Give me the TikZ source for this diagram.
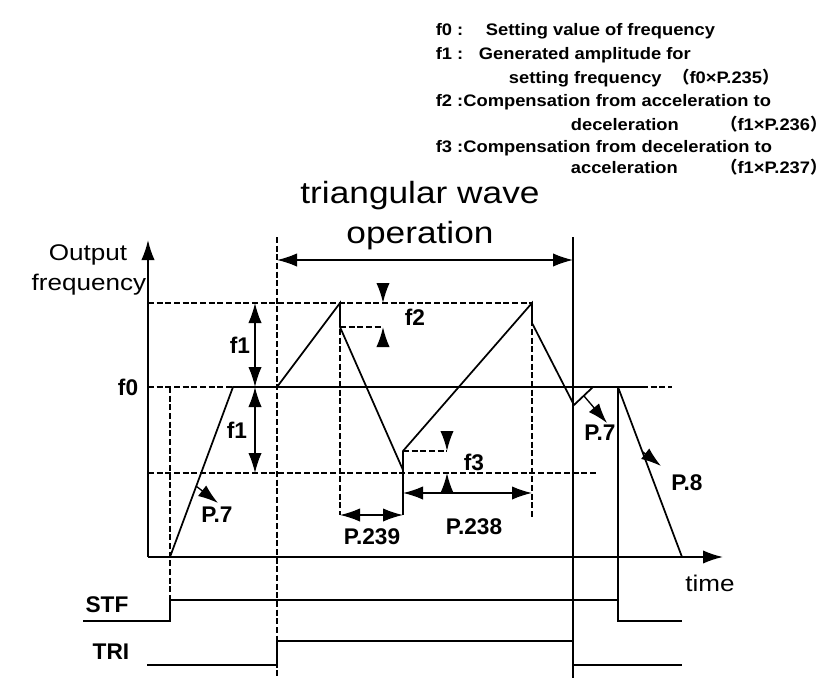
\documentclass[tikz,border=0pt]{standalone}
\usepackage{fontspec}
\setmainfont{Liberation Sans}[FakeStretch=1.15]
\newfontfamily\legfont{Liberation Sans}[FakeStretch=1.1,BoldFont={Liberation Sans Bold}]
\newfontfamily\lblfont{Liberation Sans Bold}
\newfontfamily\cjk{Noto Sans CJK SC}
\usetikzlibrary{arrows.meta}

\begin{document}
\begin{tikzpicture}[x=0.75pt,y=-0.75pt,>={Latex[length=15pt,width=10pt]},line width=1.3pt,
  every node/.style={inner sep=0pt,font=\fontsize{17}{20}\selectfont},
  lbl/.style={font=\lblfont\fontsize{17}{20}\selectfont},
  guide/.style={dash pattern=on 4.5pt off 2pt,line width=1pt},
  sig/.style={line width=1pt},
  thin arrow/.style={->,line width=1pt},
  dim/.style={<->,line width=1.1pt},
  leg/.style={anchor=base west,font=\legfont\bfseries\fontsize{12.5}{14}\selectfont}]
  \useasboundingbox (0,0) rectangle (840,678);

  % legend
  \node (l0) [leg] at (435,36) {f0 :};
  \node (l0t) [leg] at (485,36) {Setting value of frequency};
  \node (l1) [leg] at (435,60) {f1 :};
  \node (l1t) [leg] at (478,60) {Generated amplitude for};
  \node (l1u) [leg] at (508,83) {setting frequency};
  \node (l1v) [leg] at (672,83) {{\cjk （}f0×P.235{\cjk ）}};
  \node (l2) [leg] at (435,106) {f2 :Compensation from acceleration to};
  \node (l2u) [leg] at (570,130) {deceleration};
  \node (l2v) [leg] at (720,130) {{\cjk （}f1×P.236{\cjk ）}};
  \node (l3) [leg] at (435,152) {f3 :Compensation from deceleration to};
  \node (l3u) [leg] at (570,173) {acceleration};
  \node (l3v) [leg] at (720,173) {{\cjk （}f1×P.237{\cjk ）}};

  % title
  \node (tw) [anchor=base,font=\fontsize{23}{26}\selectfont] at (420,203) {triangular wave};
  \node (opn) [anchor=base,font=\fontsize{23}{26}\selectfont] at (420,243) {operation};

  % axes
  \coordinate (O) at (148,557);
  \coordinate (ytip) at (148,240);
  \coordinate (xtip) at (723,557);
  \draw[->] (O) -- (ytip);
  \draw[->] (O) -- (xtip);
  \node (out) [anchor=base east] at (128,260) {Output};
  \node (freq) [anchor=base east] at (147,290) {frequency};
  \node (time) at (710,583) {time};

  % levels
  \coordinate (hi) at (148,303);
  \coordinate (hiR) at (532,303);
  \coordinate (mid) at (148,387);
  \coordinate (midR) at (672,387);
  \coordinate (lo) at (148,473);
  \coordinate (loR) at (597,473);
  \draw[guide] (hi) -- (hiR);
  \draw[guide] (mid) -- (midR);
  \draw[guide] (lo) -- (loR);
  \node (f0) [lbl,anchor=east] at (139,387) {f0};

  % output frequency
  \coordinate (s0) at (170,557);
  \coordinate (s1) at (233,387);
  \coordinate (t0) at (277,387);
  \coordinate (t1) at (340,303);
  \coordinate (t2) at (340,327);
  \coordinate (t3) at (403,470);
  \coordinate (t4) at (403,451);
  \coordinate (t5) at (532,303);
  \coordinate (t6) at (532,323);
  \coordinate (t7) at (574,405);
  \coordinate (e0) at (593,387);
  \coordinate (e1) at (618,387);
  \coordinate (e2) at (682,557);
  \coordinate (f0end) at (645,387);
  \draw (s1) -- (f0end);
  \draw (s0) -- (s1) -- (t0) -- (t1) -- (t2) -- (t3) -- (t4) -- (t5) -- (t6) -- (t7) -- (e0) -- (e1) -- (e2);

  % guide lines
  \coordinate (g1) at (170,387);
  \coordinate (g1b) at (170,600);
  \coordinate (opL) at (277,237);
  \coordinate (opLb) at (277,678);
  \coordinate (opR) at (573,237);
  \coordinate (opRb) at (573,678);
  \coordinate (p9L) at (340,515);
  \coordinate (p9R) at (403,515);
  \coordinate (p8L) at (403,493);
  \coordinate (p8R) at (532,493);
  \coordinate (g5b) at (532,517);
  \coordinate (stfOff) at (618,600);
  \draw[guide] (g1) -- (g1b);
  \draw[guide] (opL) -- (opLb);
  \draw[guide] (t1) -- (p9L);
  \draw[guide] (t5) -- (g5b);
  \draw (opR) -- (opRb);
  \draw (t3) -- (p9R);
  \draw (e1) -- (stfOff);

  % triangular wave span
  \coordinate (opA) at (277,260);
  \coordinate (opB) at (573,260);
  \draw[dim] (opA) -- (opB);

  % f1
  \coordinate (f1t) at (255,303);
  \coordinate (f1m) at (255,387);
  \coordinate (f1b) at (255,473);
  \draw[dim] (f1t) -- (f1m);
  \draw[dim] (f1m) -- (f1b);
  \node (f1a) [lbl] at (240,345) {f1};
  \node (f1c) [lbl] at (237,430) {f1};

  % f2
  \coordinate (f2a) at (383,283);
  \coordinate (f2b) at (383,303);
  \coordinate (f2c) at (383,327);
  \coordinate (f2d) at (383,347);
  \draw[->] (f2a) -- (f2b);
  \draw[guide] (t2) -- (f2c);
  \draw[->] (f2d) -- (f2c);
  \node (f2) [lbl] at (415,317) {f2};

  % f3
  \coordinate (f3a) at (447,431);
  \coordinate (f3b) at (447,451);
  \coordinate (f3c) at (447,493);
  \coordinate (f3d) at (447,473);
  \draw[guide] (t4) -- (f3b);
  \draw[->] (f3a) -- (f3b);
  \draw[->] (f3c) -- (f3d);
  \node (f3) [lbl] at (474,462) {f3};

  % P.239, P.238
  \draw[dim] (p9L) -- (p9R);
  \draw[dim] (p8L) -- (p8R);
  \node (p239) [lbl] at (372,537) {P.239};
  \node (p238) [lbl] at (474,527) {P.238};

  % acceleration / deceleration times
  \coordinate (a7) at (196,486);
  \coordinate (a7t) at (218,503);
  \coordinate (b7) at (584,396);
  \coordinate (b7t) at (607,423);
  \coordinate (c8) at (643,452);
  \coordinate (c8t) at (661,466);
  \draw[thin arrow] (a7) -- (a7t);
  \draw[thin arrow] (b7) -- (b7t);
  \draw[thin arrow] (c8) -- (c8t);
  \node (p7a) [lbl] at (217,515) {P.7};
  \node (p7b) [lbl] at (600,433) {P.7};
  \node (p8) [lbl] at (687,483) {P.8};

  % STF and TRI signals
  \coordinate (stf0) at (83,621);
  \coordinate (stf1) at (170,621);
  \coordinate (stf2) at (682,621);
  \coordinate (tri0) at (147,665);
  \coordinate (tri1) at (277,665);
  \coordinate (tri2) at (277,641);
  \coordinate (tri3) at (573,641);
  \coordinate (tri4) at (573,665);
  \coordinate (tri5) at (682,665);
  \draw[sig] (stf0) -- (stf1) -- (g1b) -- (stfOff) -- (618,621) -- (stf2);
  \draw[sig] (tri0) -- (tri1) -- (tri2) -- (tri3) -- (tri4) -- (tri5);
  \node (stf) [lbl] at (107,605) {STF};
  \node (tri) [lbl] at (111,652) {TRI};
\end{tikzpicture}
\end{document}
